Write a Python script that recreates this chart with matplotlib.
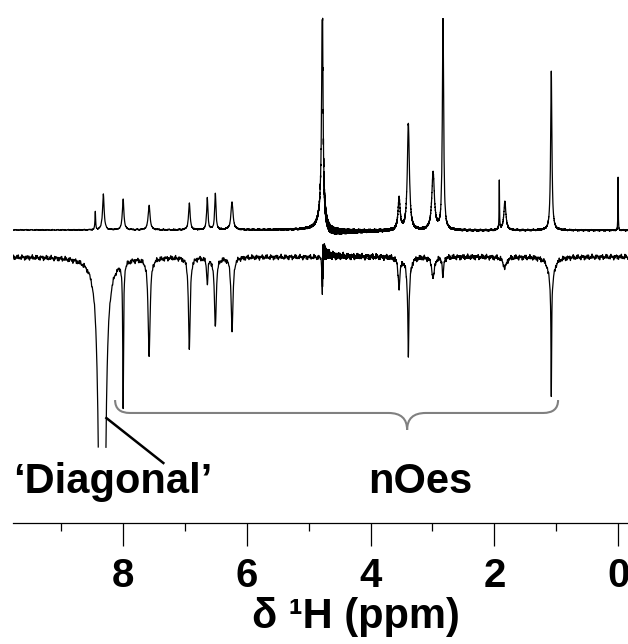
import numpy as np
import matplotlib
matplotlib.use("Agg")
import matplotlib.pyplot as plt
from matplotlib.path import Path
from matplotlib.patches import PathPatch
from matplotlib.ticker import MultipleLocator

plt.rcParams['font.family'] = ['Liberation Sans', 'DejaVu Sans']
plt.rcParams['font.weight'] = 'bold'

# 1D proton spectrum (top trace): peak position (ppm), height (tallest = 100), half width (ppm)
top_ppm = [8.45, 8.32, 8.00, 7.58, 6.93, 6.64, 6.51, 6.24, 4.78, 4.78, 3.54, 3.39, 2.99, 2.83, 1.92, 1.83, 1.08, 0.00]
top_height = [8.5, 17, 14.5, 11.5, 12.5, 15, 17, 13, 104, 12, 15, 50, 27, 102, 23, 13.5, 75, 25]
top_hw = [0.006, 0.015, 0.015, 0.018, 0.015, 0.012, 0.012, 0.02, 0.012, 0.05, 0.02, 0.02, 0.025, 0.012, 0.004, 0.02, 0.012, 0.003]

# NOE difference spectrum (bottom trace, negative peaks): position, depth, half width
bot_ppm = [8.34, 8.00, 7.58, 6.93, 6.64, 6.51, 6.24, 4.78, 3.54, 3.39, 3.39, 2.99, 2.83, 1.83, 1.08, 1.08]
bot_depth = [2500, 68, 45, 44, 12, 33, 35, 18, 14, 16, 30, 10, 10, 5, 13, 52]
bot_hw = [0.012, 0.008, 0.02, 0.016, 0.012, 0.018, 0.018, 0.006, 0.018, 0.03, 0.008, 0.025, 0.012, 0.035, 0.05, 0.006]

top_offset = 0.0
bot_offset = -12.7
clip_hi = 100.0
clip_lo = -102.8

ppm = np.linspace(9.78, -0.16, 40000)


def lorentz(x, x0, h, g):
    return h * g ** 2 / ((x - x0) ** 2 + g ** 2)


top = np.zeros_like(ppm) + top_offset
for p, h, w in zip(top_ppm, top_height, top_hw):
    top += lorentz(ppm, p, h, w)

bot = np.zeros_like(ppm) + bot_offset
for p, h, w in zip(bot_ppm, bot_depth, bot_hw):
    bot -= lorentz(ppm, p, h, w)

# residual water signal: dispersive ringing either side of 4.78 ppm
d = ppm - 4.78
osc = 0.5 + 0.5 * np.cos(d * 3000.0)
top += np.where(d < 0, -6.0 / (1 + np.abs(d) / 0.18), 2.5 / (1 + d / 0.08)) * osc
bot += np.where(d < 0, 13.0 / (1 + np.abs(d) / 0.025), 0.0) * osc

# baseline noise
top += 0.2 * np.sin(ppm * 171.3) * np.sin(ppm * 97.7 + 0.4)
bot += 0.9 * np.sin(ppm * 153.1) * np.cos(ppm * 71.9 + 1.1) + 0.5 * np.sin(ppm * 331.3 + 0.3)

top = np.where(top > clip_hi, np.nan, top)
bot = np.where(bot < clip_lo, np.nan, bot)

fig = plt.figure(figsize=(6.28, 6.44), dpi=100)
ax = fig.add_axes([13 / 628, 121 / 644, 615 / 628, 523 / 644])
ax.plot(ppm, top, color='black', lw=0.9)
ax.plot(ppm, bot, color='black', lw=0.9)

ax.set_xlim(9.78, -0.16)
ax.set_ylim(-138.2, 108.5)
for s in ['top', 'left', 'right']:
    ax.spines[s].set_visible(False)
ax.spines['bottom'].set_linewidth(0.9)
ax.set_yticks([])
ax.xaxis.set_major_locator(MultipleLocator(2))
ax.xaxis.set_minor_locator(MultipleLocator(1))
ax.tick_params(axis='x', which='major', direction='out', length=16.5, width=0.9, pad=8, labelsize=29)
ax.tick_params(axis='x', which='minor', direction='out', length=6, width=0.9)
ax.set_xlabel('δ ¹H (ppm)', fontsize=30, fontweight='bold', va='baseline')
ax.xaxis.set_label_coords(0.558, -0.2)

# brace over the nOe peaks
yb, ye, yt = -86.3, -80.2, -94.3
verts = [(8.13, ye), (8.13, yb), (7.89, yb), (3.71, yb), (3.41, yb), (3.41, yt),
         (3.41, yb), (3.11, yb), (1.21, yb), (0.97, yb), (0.97, ye)]
codes = [Path.MOVETO, Path.CURVE3, Path.CURVE3, Path.LINETO, Path.CURVE3, Path.CURVE3,
         Path.CURVE3, Path.CURVE3, Path.LINETO, Path.CURVE3, Path.CURVE3]
ax.add_patch(PathPatch(Path(verts, codes), fill=False, edgecolor='#808080', lw=1.5))

ax.plot([8.27, 7.35], [-88.7, -109.9], color='black', lw=1.8)
ax.text(9.78, -124.1, '\u2018Diagonal\u2019', fontsize=30, fontweight='bold', ha='left', va='baseline')
ax.text(3.20, -124.1, 'nOes', fontsize=30, fontweight='bold', ha='center', va='baseline')

fig.savefig('out.png', dpi=100)
